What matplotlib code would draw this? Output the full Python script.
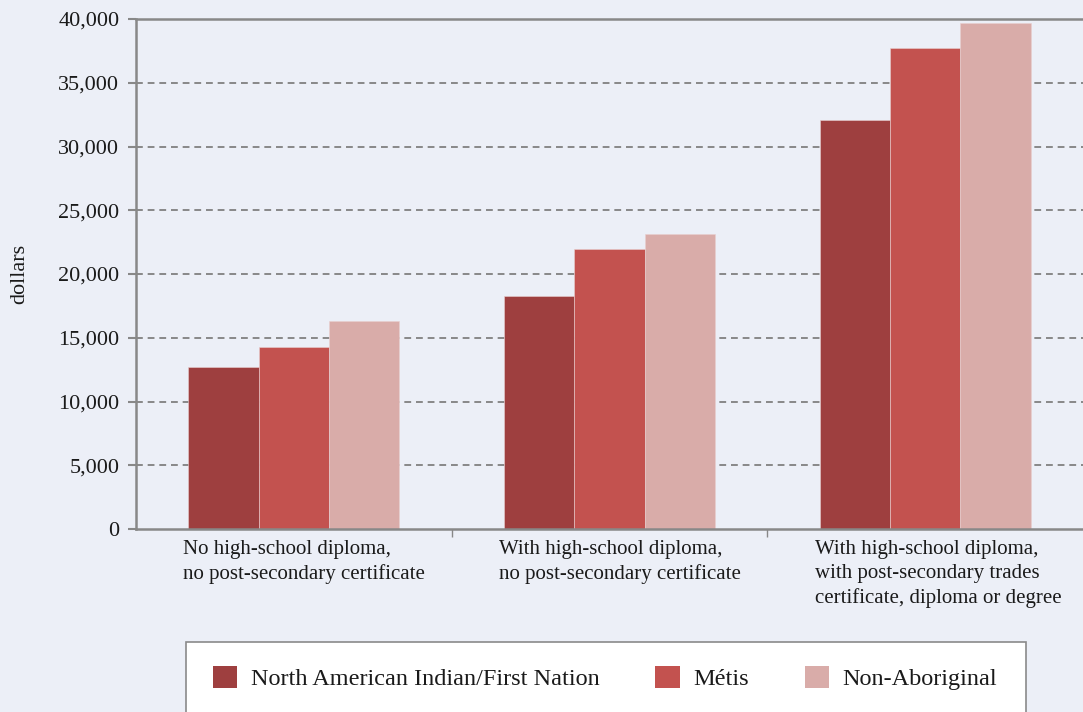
import matplotlib
matplotlib.use("Agg")
import matplotlib.pyplot as plt
import numpy as np
from matplotlib.patches import Rectangle, Patch
from matplotlib.transforms import blended_transform_factory

categories = [
    "No high-school diploma,\nno post-secondary certificate",
    "With high-school diploma,\nno post-secondary certificate",
    "With high-school diploma,\nwith post-secondary trades\ncertificate, diploma or degree",
]
series_names = ["North American Indian/First Nation", "Métis", "Non-Aboriginal"]
first_nation = [12700, 18300, 32100]
metis = [14300, 22000, 37700]
non_aboriginal = [16300, 23100, 39700]
yticks = [0, 5000, 10000, 15000, 20000, 25000, 30000, 35000, 40000]
ytick_labels = ["0", "5,000", "10,000", "15,000", "20,000", "25,000", "30,000", "35,000", "40,000"]

colors = ["#9E3F3F", "#C3524F", "#D9ACA9"]
bg = "#ECEFF7"
grey = "#888888"
txt = "#1a1a1a"

plt.rcParams["font.family"] = ["Liberation Serif", "DejaVu Serif"]

fig = plt.figure(figsize=(10.83, 7.12), dpi=100, facecolor=bg)
ax = fig.add_axes([136 / 1083, 1 - 529 / 712, 1 - 136 / 1083, (529 - 19) / 712])
ax.set_facecolor(bg)

x = np.arange(len(categories))
w = 0.223
data = [first_nation, metis, non_aboriginal]
for i, (vals, c) in enumerate(zip(data, colors)):
    ax.bar(x + (i - 1) * w, vals, width=w, color=c, edgecolor="#E8D0D0", linewidth=0.4,
           label=series_names[i], zorder=3)

ax.set_xlim(-0.5, len(categories) - 0.5)
ax.set_ylim(0, 40000)
ax.set_yticks(yticks)
ax.set_yticklabels(ytick_labels, fontsize=16, color=txt)
ax.yaxis.grid(True, linestyle=(0, (3.5, 2.5)), color=grey, linewidth=1.4, zorder=0)
ax.set_axisbelow(True)
gl = ax.yaxis.get_gridlines()
gl[0].set_visible(False)
gl[-1].set_visible(False)

ax.set_xticks(np.arange(len(categories) - 1) + 0.5)
ax.set_xticklabels([])
ax.tick_params(axis="x", length=6, color=grey, width=1)
ax.tick_params(axis="y", length=6, color=grey, width=1.5, pad=6)

for s in ["left", "bottom", "top"]:
    ax.spines[s].set_color(grey)
    ax.spines[s].set_linewidth(1.8)
    ax.spines[s].set_zorder(4)
ax.spines["right"].set_visible(False)

trans = blended_transform_factory(ax.transData, ax.transAxes)
for i, lab in enumerate(categories):
    ax.text(i - 0.35, -0.022, lab, transform=trans, ha="left", va="top",
            fontsize=15, color=txt, linespacing=1.35)

ax.set_ylabel("dollars", fontsize=16, color=txt)
ax.yaxis.set_label_coords(-0.113, 0.5)

# legend box
fig.patches.append(Rectangle((186 / 1083, -0.05), (1026 - 186) / 1083, 0.05 + 1 - 642 / 712,
                             transform=fig.transFigure, facecolor="white",
                             edgecolor="#8a8a8a", linewidth=1.2, zorder=1))
handles = [Patch(facecolor=c, edgecolor="none") for c in colors]
leg = fig.legend(handles, series_names, loc="center", ncol=3, frameon=False,
                 bbox_to_anchor=(605 / 1083, 1 - 678 / 712), fontsize=17.5,
                 handlelength=1.0, handleheight=1.0, handletextpad=0.55, columnspacing=2.3)
leg.set_zorder(2)
for t in leg.get_texts():
    t.set_color(txt)

fig.savefig("out.png", dpi=100, facecolor=bg)
